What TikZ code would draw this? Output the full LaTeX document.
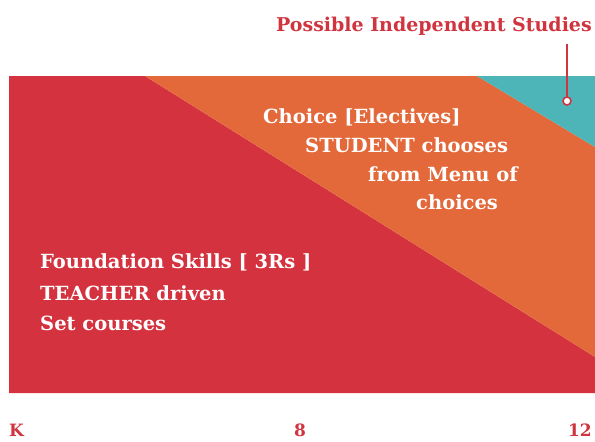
\documentclass[tikz,border=0pt]{standalone}
\usepackage{fontspec}
\setmainfont{DejaVu Serif}
\definecolor{skillred}{HTML}{D4323E}
\definecolor{choiceorange}{HTML}{E3693B}
\definecolor{studyteal}{HTML}{4DB4B7}
\definecolor{labelred}{HTML}{D0343F}
\begin{document}
\begin{tikzpicture}[x=1pt,y=-1pt]
      \tikzset{bandtext/.style={anchor=base west, inner sep=0pt, text=white, font=\bfseries\fontsize{19.5}{22}\selectfont},
               gradetext/.style={anchor=base, inner sep=0pt, text=labelred, font=\bfseries\fontsize{17}{19}\selectfont}}
      \useasboundingbox (0,0) rectangle (595,442);
%% Bands
      	\fill[skillred] (9,76) -- (145,76) -- (595,357) -- (595,393) -- (9,393) -- cycle;
      	\fill[choiceorange] (145,76) -- (477,76) -- (595,147) -- (595,357) -- cycle;
      	\fill[studyteal] (477,76) -- (595,76) -- (595,147) -- cycle;
%% Texts
      	\node[bandtext] (choice1) at (263,123) {Choice [Electives]};
      	\node[bandtext] (choice2) at (305,152) {STUDENT chooses};
      	\node[bandtext] (choice3) at (368,181) {from Menu of};
      	\node[bandtext] (choice4) at (416,209) {choices};
      	\node[bandtext] (found1) at (40,268) {Foundation Skills [ 3Rs ]};
      	\node[bandtext] (found2) at (40,300) {TEACHER driven};
      	\node[bandtext] (found3) at (40,330) {Set courses};
%% Grades
      	\node[gradetext, anchor=base west] (gK) at (9,436) {K};
      	\node[gradetext] (g8) at (300,436) {8};
      	\node[gradetext, anchor=base east] (g12) at (592,436) {12};
%% Independent studies
      	\node[anchor=base east, inner sep=0pt, text=labelred, font=\bfseries\fontsize{19}{22}\selectfont] (indep) at (592,31) {Possible Independent Studies};
      	\coordinate (dot) at (567,101);
		\draw[labelred, line width=2pt] (indep.south -| dot) ++(0,9) -- (dot);
		\draw[labelred, line width=1.6pt, fill=white] (dot) circle (4);
	\end{tikzpicture}
\end{document}
